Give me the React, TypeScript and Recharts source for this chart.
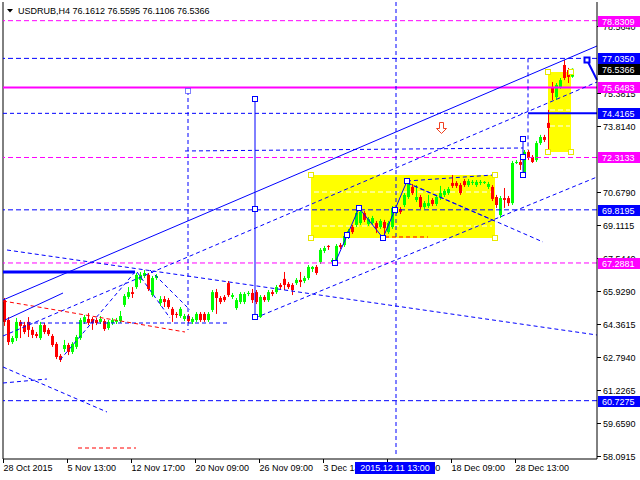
import React from "react";
import {
  ComposedChart,
  Bar,
  XAxis,
  YAxis,
  ReferenceLine,
  ReferenceArea,
  ReferenceDot,
} from "recharts";

const FONT = "'Liberation Sans', Arial, sans-serif";
const BLUE = "#0000ff";
const MAGENTA = "#ff00ff";
const YELLOW = "#ffff00";

// USDRUB H4 candles
const opens = [
  65.52, 64.57, 63.52, 63.71, 64.48, 64.33, 64.48, 64.1, 63.9, 63.71,
  64.33, 64.1, 63.81, 63.43, 62.86, 63.19, 63.38, 63.05, 63.29, 63.71,
  64.48, 64.62, 64.62, 64.57, 64.48, 64.52, 64.19, 64.43, 64.48, 64.52,
  65.29, 65.67, 65.9, 66.14, 66.48, 66.67, 66.72, 65.76, 66.57, 65.38,
  65.57, 65.52, 65.1, 64.86, 64.76, 64.62, 64.76, 64.48, 64.57, 64.86,
  64.86, 64.57, 65.05, 65.9, 65.62, 65.67, 66.33, 65.67, 65.14, 65.43,
  65.43, 65.81, 65.86, 65.9, 64.71, 65.67, 65.52, 65.9, 65.9, 66.24,
  66.53, 66.29, 66.24, 66.33, 66.48, 66.43, 66.57, 67.0, 67.1, 67.33,
  67.86, 68.1, 67.33, 67.33, 68.14, 68.14, 68.53, 69.0, 69.1, 69.19,
  69.67, 69.14, 69.19, 69.19, 69.0, 69.24, 68.76, 69.0, 69.72, 69.86,
  70.05, 70.43, 70.91, 70.29, 70.43, 69.95, 70.0, 70.29, 70.1, 70.43,
  70.53, 70.62, 71.1, 71.1, 71.0, 71.19, 71.0, 71.1, 71.0, 71.1,
  71.1, 70.91, 70.91, 70.43, 69.57, 70.38, 70.38, 70.14, 72.05, 72.1,
  71.48, 72.58, 72.34, 72.19, 73.0, 73.29, 73.96, 75.67, 75.19, 75.67,
  76.72, 76.48, 76.1612,
];
const highs = [
  65.62, 64.71, 63.81, 64.67, 64.57, 64.48, 64.71, 64.24, 64.0, 64.48,
  64.43, 64.19, 63.9, 63.52, 62.95, 63.62, 63.48, 63.52, 63.86, 64.67,
  64.81, 64.9, 64.71, 64.67, 64.76, 64.62, 64.57, 64.67, 64.67, 65.0,
  65.81, 66.14, 66.14, 66.81, 66.86, 66.95, 66.81, 66.67, 66.76, 65.71,
  65.71, 65.62, 65.19, 64.95, 65.19, 64.86, 64.86, 64.71, 64.95, 64.95,
  64.95, 64.95, 66.0, 66.05, 65.71, 65.76, 66.43, 65.86, 65.62, 65.9,
  65.9, 65.95, 66.05, 66.0, 65.76, 65.76, 66.0, 66.0, 66.24, 66.33,
  66.86, 66.38, 66.33, 66.57, 66.86, 66.67, 67.19, 67.14, 67.19, 68.0,
  68.1, 68.14, 67.52, 68.19, 68.24, 68.67, 68.91, 69.1, 69.76, 69.91,
  69.76, 69.48, 69.53, 69.29, 69.38, 69.34, 69.29, 70.0, 70.0, 69.95,
  70.62, 71.19, 71.05, 71.0, 70.53, 70.24, 70.53, 70.38, 70.53, 70.96,
  70.81, 70.91, 71.48, 71.19, 71.1, 71.29, 71.29, 71.24, 71.24, 71.24,
  71.19, 71.15, 71.0, 70.53, 70.48, 70.86, 70.48, 72.15, 72.19, 72.43,
  72.67, 72.67, 72.43, 73.1, 73.39, 73.39, 74.58, 75.91, 75.86, 76.1,
  76.96, 76.58, 76.5595,
];
const lows = [
  64.29, 63.38, 63.43, 63.57, 63.71, 63.9, 63.76, 63.71, 63.71, 63.62,
  63.9, 63.81, 63.29, 62.71, 62.57, 63.05, 62.9, 62.95, 63.19, 63.62,
  64.38, 64.33, 64.1, 64.33, 64.38, 64.05, 64.1, 64.33, 64.38, 64.43,
  65.19, 65.57, 65.62, 66.05, 66.33, 66.57, 65.95, 65.67, 66.48, 65.24,
  65.19, 65.1, 64.48, 64.67, 64.67, 64.52, 64.43, 64.38, 64.48, 64.48,
  64.48, 64.48, 64.95, 64.86, 65.33, 65.43, 65.67, 65.57, 65.05, 65.33,
  65.33, 65.71, 65.38, 65.33, 64.67, 65.43, 65.43, 65.71, 65.81, 66.05,
  66.0, 66.05, 65.76, 66.24, 66.14, 66.33, 66.48, 66.86, 66.72, 67.24,
  67.76, 67.91, 67.24, 67.24, 67.95, 68.05, 68.43, 68.67, 69.0, 69.1,
  69.24, 69.05, 69.1, 68.71, 68.91, 68.53, 68.67, 68.91, 69.62, 69.62,
  69.95, 70.34, 70.53, 70.19, 69.86, 69.86, 69.91, 70.0, 70.0, 70.29,
  70.43, 70.53, 70.86, 70.86, 70.53, 70.91, 70.91, 71.0, 70.91, 71.0,
  71.05, 70.81, 70.24, 69.91, 69.43, 69.91, 70.0, 70.05, 72.0, 71.72,
  71.38, 72.19, 72.05, 72.1, 72.91, 73.05, 72.67, 75.05, 75.05, 75.58,
  76.0, 75.86, 76.1106,
];
const closes = [
  64.48, 63.52, 63.71, 64.48, 64.29, 64.0, 64.1, 63.86, 63.81, 64.33,
  64.0, 63.9, 63.38, 62.81, 62.67, 63.38, 63.05, 63.43, 63.76, 64.57,
  64.71, 64.43, 64.43, 64.43, 64.62, 64.14, 64.48, 64.57, 64.57, 64.76,
  65.71, 65.9, 65.81, 66.72, 66.72, 66.81, 66.05, 66.57, 66.67, 65.57,
  65.43, 65.19, 64.81, 64.81, 65.1, 64.76, 64.52, 64.62, 64.86, 64.57,
  64.57, 64.86, 65.9, 65.62, 65.43, 65.52, 65.76, 65.76, 65.52, 65.81,
  65.81, 65.86, 65.52, 65.43, 65.67, 65.52, 65.9, 65.81, 66.14, 66.14,
  66.24, 66.14, 66.0, 66.48, 66.38, 66.57, 67.1, 67.1, 66.81, 67.91,
  68.0, 68.05, 67.43, 68.1, 68.05, 68.57, 68.81, 68.76, 69.67, 69.72,
  69.34, 69.38, 69.43, 68.95, 69.29, 68.95, 69.19, 69.91, 69.91, 69.72,
  70.53, 71.1, 70.62, 70.43, 69.95, 70.14, 70.14, 70.1, 70.43, 70.62,
  70.72, 70.81, 70.96, 70.96, 70.62, 71.0, 71.19, 71.15, 71.15, 71.15,
  71.15, 71.05, 70.34, 70.05, 70.38, 70.29, 70.14, 72.05, 72.1, 71.96,
  72.58, 72.29, 72.1, 73.0, 73.29, 73.15, 73.72, 75.39, 75.77, 76.0,
  76.1, 76.15, 76.5366,
];

// time axis: bar index of each label
const xTicks = [0, 16, 32, 48, 64, 80, 96, 112, 128];
const xLabels = [
  "28 Oct 2015", "5 Nov 13:00", "12 Nov 17:00", "20 Nov 09:00", "26 Nov 09:00",
  "3 Dec 13:00", "11 Dec 05:00", "18 Dec 09:00", "28 Dec 13:00",
];
const cursorBar = 98;
const cursorLabel = "2015.12.11 13:00";

// price scale labels (the ones not fully hidden by the level tags)
const yTicks = [
  58.0915, 59.659, 61.2265, 62.794, 64.3615, 65.929, 67.544,
  69.1115, 70.679, 73.814, 75.3815, 78.564,
];
const magentaLevels = [78.8309, 72.3133, 67.2881];
const blueLevels = [77.035, 69.8195, 60.7275];
const mainLevel = 75.6483;
const breakLevel = 74.4165;
const bidPrice = 76.5366;
const tagValues = [...magentaLevels, mainLevel, ...blueLevels, breakLevel, bidPrice];

// drawn objects: [bar1, price1, bar2, price2]
const solidLines = [
  [-0.25, 65.524, 148.25, 77.625],
  [0.25, 64.571, 14.75, 65.857],
  [62.75, 75.1, 62.75, 64.714],
  [82.75, 67.287, 88.75, 69.907],
  [88.75, 69.907, 94.75, 68.478],
  [94.75, 68.478, 100.75, 71.193],
  [129.75, 73.194, 129.75, 71.479],
];
const dashedLines = [
  [0.75, 67.906, 148.25, 63.857],
  [-0.25, 63.809, 148.25, 75.91],
  [62.75, 64.666, 148.25, 71.384],
  [14, 62.665, 32.75, 66.858],
  [33.25, 66.858, 41.5, 64.666],
  [36.5, 66.953, 46.5, 65.048],
  [4, 64.428, 56, 64.428],
  [45.25, 72.623, 129.75, 72.766],
  [46, 75.481, 46, 64.095],
  [98, 79.72, 98, 58.092],
  [131, 77.035, 131, 72.67],
  [-0.25, 62.332, 25.75, 60.188],
  [-0.25, 61.569, 10.75, 61.76],
  [100.75, 71.193, 122.25, 71.479],
  [101, 71.098, 134.75, 68.288],
  [100.75, 71.098, 123.25, 69.24],
  [-0.25, 74.4165, 129.75, 74.4165],
];
const redDashedLines = [
  [-0.25, 65.477, 45.25, 64.0],
  [18.5, 58.473, 33, 58.473],
  [95.25, 68.526, 106, 68.526],
];
const heavyLines = [[-0.25, 66.858, 32.75, 66.858]];
const boldLines = [
  [131, 74.4165, 148.25, 74.4165],
  [145.75, 76.958, 148.25, 76.005],
];
const whiteDashes = [
  [77.5, 70.669, 122, 70.669],
  [77.5, 69.049, 122, 69.049],
  [136.5, 74.576, 141.5, 74.576],
  [136.5, 73.814, 141.5, 73.814],
];
const boxes = [
  [76.75, 71.479, 122.75, 68.478],
  [136, 76.386, 141.75, 72.575],
];
const blueMarkers = [
  [62.75, 75.1], [62.75, 69.86], [62.75, 64.714], [82.75, 67.287], [85.75, 68.62],
  [88.75, 69.907], [94.75, 68.478], [97.75, 69.812], [100.75, 71.193],
  [129.75, 73.194], [129.75, 72.337], [129.75, 71.479], [145.75, 76.958],
];
const dottedMarkers = [[46, 75.481]];
const yellowMarkers = [
  [76.75, 71.479], [76.75, 68.478], [122.75, 71.479], [122.75, 68.478],
  [136, 76.386], [136, 72.575], [141.75, 72.575], [141.75, 76.386],
];
const sellArrow = [109.25, 73.718];

const candles = opens.map((o, i) => ({
  i,
  open: o,
  high: highs[i],
  low: lows[i],
  close: closes[i],
  range: [lows[i], highs[i]],
}));

const Candle = (props: any) => {
  const { x, y, width, height, payload } = props;
  if (!payload) return null;
  const { open, close, high, low } = payload;
  const top = Math.min(y, y + height);
  const h = Math.abs(height);
  const k = h / (high - low || 1);
  const py = (v: number) => top + (high - v) * k;
  const cx = Math.round(x + width / 2);
  const color = close >= open ? "#00ff00" : "#ff0000";
  const bTop = py(Math.max(open, close));
  const bBot = py(Math.min(open, close));
  return (
    <g>
      <line x1={cx + 0.5} x2={cx + 0.5} y1={top} y2={top + h} stroke={color} />
      <rect x={cx - 1} y={bTop} width={3} height={Math.max(1, bBot - bTop)} fill={color} />
    </g>
  );
};

const XTick = (props: any) => {
  const { x, payload, index } = props;
  if (index === xTicks.length) {
    return (
      <g>
        <rect x={x - 41} y={462} width={80} height={12} fill={BLUE} />
        <text x={x - 1} y={468} textAnchor="middle" dominantBaseline="central" fill="#fff" fontSize={9} fontFamily={FONT}>
          {cursorLabel}
        </text>
      </g>
    );
  }
  const x0 = Math.round(x) - 0.5;
  return (
    <g>
      <line x1={x0} x2={x0} y1={459} y2={463} stroke="#000" />
      <text x={x0} y={468} dominantBaseline="central" fill="#000" fontSize={9} fontFamily={FONT}>
        {xLabels[xTicks.indexOf(payload.value)]}
      </text>
    </g>
  );
};

const YTick = (props: any) => {
  const { y, payload, index } = props;
  const v = payload.value;
  if (index < yTicks.length) {
    const y0 = Math.round(y) + 0.5;
    return (
      <g>
        <line x1={597} x2={601} y1={y0} y2={y0} stroke="#000" />
        <text x={603} y={y0} dominantBaseline="central" fill="#000" fontSize={9} fontFamily={FONT}>
          {v.toFixed(4)}
        </text>
      </g>
    );
  }
  let bg = BLUE;
  if (v === bidPrice) bg = "#000";
  else if (v === mainLevel || magentaLevels.includes(v)) bg = MAGENTA;
  return (
    <g>
      <rect x={598} y={Math.round(y) - 5} width={42} height={11} fill={bg} />
      <text x={602} y={Math.round(y) + 0.5} dominantBaseline="central" fill="#fff" fontSize={9} fontFamily={FONT}>
        {v.toFixed(4)}
      </text>
    </g>
  );
};

const seg = (s: number[]) => [
  { x: s[0], y: s[1] },
  { x: s[2], y: s[3] },
];

const square = (stroke: string, sw = 1, dash?: string) => (p: any) => (
  <rect
    x={Math.round(p.cx) - 2.5}
    y={Math.round(p.cy) - 2.5}
    width={5}
    height={5}
    fill="#fff"
    stroke={stroke}
    strokeWidth={sw}
    strokeDasharray={dash}
  />
);

const Arrow = (p: any) => {
  const cx = Math.round(p.cx) + 0.5;
  const cy = Math.round(p.cy) + 0.5;
  const pts = [
    [-2, -6], [2, -6], [2, 0], [5, 0], [0, 5], [-5, 0], [-2, 0],
  ]
    .map(([a, b]) => `${cx + a},${cy + b}`)
    .join(" ");
  return <polygon points={pts} fill="#fff" stroke="#f04020" />;
};

export default function App() {
  return (
    <div style={{ position: "absolute", left: 0, top: 0, width: 640, height: 480, background: "#fff" }}>
      <ComposedChart width={640} height={480} data={candles} margin={{ top: 2, right: 0, bottom: 0, left: 3 }}>
        <XAxis
          dataKey="i"
          type="number"
          domain={[-0.25, 148.25]}
          allowDataOverflow
          ticks={[...xTicks, cursorBar]}
          interval={0}
          tick={(p: any) => <XTick {...p} />}
          tickLine={false}
          axisLine={{ stroke: "#000" }}
          height={21}
        />
        <YAxis
          orientation="right"
          type="number"
          domain={[57.949, 79.721]}
          allowDataOverflow
          ticks={[...yTicks, ...tagValues]}
          interval={0}
          tick={(p: any) => <YTick {...p} />}
          tickLine={false}
          axisLine={{ stroke: "#000" }}
          width={43}
        />
        {boxes.map((b, i) => (
          <ReferenceArea
            key={"box" + i}
            x1={b[0]}
            x2={b[2]}
            y1={b[1]}
            y2={b[3]}
            fill={YELLOW}
            fillOpacity={1}
            stroke="none"
            ifOverflow="visible"
            zIndex={-10}
          />
        ))}
        {whiteDashes.map((s, i) => (
          <ReferenceLine key={"wd" + i} segment={seg(s)} stroke="#fff" strokeDasharray="5 3" ifOverflow="visible" zIndex={-5} />
        ))}
        <ReferenceLine x={-0.25} stroke="#000" />
        <Bar dataKey="range" shape={(p: any) => <Candle {...p} />} isAnimationActive={false} barSize={3} />
        {magentaLevels.map((v) => (
          <ReferenceLine key={"ml" + v} y={v} stroke={MAGENTA} strokeDasharray="5 3" />
        ))}
        {blueLevels.map((v) => (
          <ReferenceLine key={"bl" + v} y={v} stroke={BLUE} strokeDasharray="5 3" />
        ))}
        <ReferenceLine y={mainLevel} stroke={MAGENTA} strokeWidth={2} />
        {dashedLines.map((s, i) => (
          <ReferenceLine key={"dl" + i} segment={seg(s)} stroke={BLUE} strokeDasharray="4 3" ifOverflow="visible" />
        ))}
        {redDashedLines.map((s, i) => (
          <ReferenceLine key={"rl" + i} segment={seg(s)} stroke="#ff0000" strokeDasharray="4 3" ifOverflow="visible" />
        ))}
        {solidLines.map((s, i) => (
          <ReferenceLine key={"sl" + i} segment={seg(s)} stroke={BLUE} ifOverflow="visible" />
        ))}
        {heavyLines.map((s, i) => (
          <ReferenceLine key={"hl" + i} segment={seg(s)} stroke={BLUE} strokeWidth={3} ifOverflow="visible" />
        ))}
        {boldLines.map((s, i) => (
          <ReferenceLine key={"bo" + i} segment={seg(s)} stroke={BLUE} strokeWidth={2} ifOverflow="visible" />
        ))}
        {yellowMarkers.map((m, i) => (
          <ReferenceDot key={"ym" + i} x={m[0]} y={m[1]} r={3} ifOverflow="visible" shape={square("#e8e800")} />
        ))}
        {dottedMarkers.map((m, i) => (
          <ReferenceDot key={"dm" + i} x={m[0]} y={m[1]} r={3} ifOverflow="visible" shape={square(BLUE, 1, "1 1")} />
        ))}
        {blueMarkers.map((m, i) => (
          <ReferenceDot
            key={"bm" + i}
            x={m[0]}
            y={m[1]}
            r={3}
            ifOverflow="visible"
            shape={square(BLUE, i === blueMarkers.length - 1 ? 2 : 1)}
          />
        ))}
        <ReferenceDot x={sellArrow[0]} y={sellArrow[1]} r={5} ifOverflow="visible" shape={Arrow} />
      </ComposedChart>
      <svg width={640} height={20} style={{ position: "absolute", left: 0, top: 0, pointerEvents: "none" }}>
        <polygon points="7,9 13,9 10,12.5" fill="#000" />
        <text x={18} y={11} dominantBaseline="central" fill="#000" fontSize={9} fontFamily={FONT}>
          USDRUB,H4  76.1612 76.5595 76.1106 76.5366
        </text>
      </svg>
    </div>
  );
}
